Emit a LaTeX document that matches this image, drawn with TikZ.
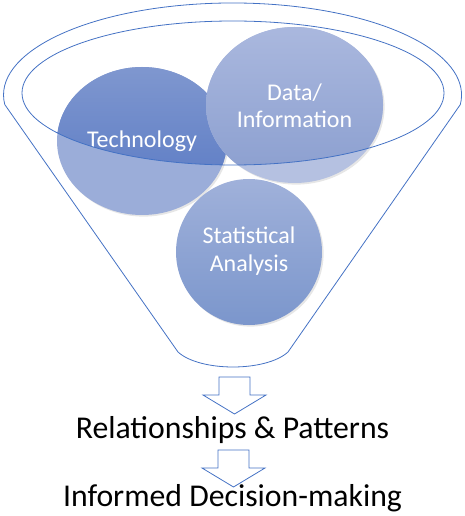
\documentclass[tikz,border=0pt]{standalone}
\usepackage{fontspec}
\setmainfont{Carlito}
\usetikzlibrary{shadows}
\definecolor{funnelblue}{HTML}{4472C4}
\definecolor{techtop}{HTML}{7F97CF}
\definecolor{techbot}{HTML}{5677C3}
\definecolor{techlight}{HTML}{9BADD9}
\definecolor{datatop}{HTML}{AAB8DE}
\definecolor{databot}{HTML}{8A9ECF}
\definecolor{datalight}{HTML}{B5C1E1}
\definecolor{stattop}{HTML}{A0B1DA}
\definecolor{statbot}{HTML}{7B96CC}
\newcommand{\blockarrow}[1]{\draw[arrowline] (#1) ++(-15.5,0) -- ++(0,18) -- ++(-16,0) -- ++(31.5,19) -- ++(31.5,-19) -- ++(-16,0) -- ++(0,-18) -- cycle;}
\begin{document}
\begin{tikzpicture}[x=0.75pt,y=-0.75pt]
\tikzstyle{funnel} = [draw=funnelblue, line width=0.6pt]
\tikzstyle{arrowline} = [draw=funnelblue, line width=0.6pt, line join=miter]
\tikzstyle{ball} = [drop shadow={opacity=0.2, shadow xshift=1.2pt, shadow yshift=-1.2pt}]
\tikzstyle{circletext} = [text=white, align=center, font=\fontsize{18}{20.5}\selectfont]
\tikzstyle{caption} = [anchor=base, font=\fontsize{23.8}{26}\selectfont]
\useasboundingbox (0,0) rectangle (464,516);
% balls in the funnel, back to front
\fill[ball, techlight] (142,141) ellipse [x radius=85, y radius=74];
\begin{scope}
\clip (233,93) ellipse [x radius=211, y radius=72];
\shade[top color=techtop, bottom color=techbot] (142,141) ellipse [x radius=85, y radius=74];
\end{scope}
\shade[ball, top color=stattop, bottom color=statbot] (249,252) circle [radius=73];
\fill[ball, datalight] (294.5,105) ellipse [x radius=88.5, y radius=78];
\begin{scope}
\clip (233,93) ellipse [x radius=211, y radius=72];
\shade[top color=datatop, bottom color=databot] (294.5,105) ellipse [x radius=88.5, y radius=78];
\end{scope}
\node[circletext] (tech) at (142,141) {Technology};
\node[circletext] (data) at (294.5,106) {Data/\\Information};
\node[circletext] (stat) at (249,251) {Statistical\\Analysis};
% funnel
\draw[funnel] (4.8,104.6) arc[start angle=174, end angle=366, x radius=229, y radius=92]
  -- (288,352) .. controls (266,372) and (200,372) .. (178,352) -- cycle;
\draw[funnel] (233,93) ellipse [x radius=211, y radius=72];
% results
\node[caption] (rel) at (232.5,438) {Relationships \& Patterns};
\node[caption] (dec) at (232.5,506) {Informed Decision-making};
\coordinate (arr1) at (234.5,377);
\coordinate (arr2) at (233.5,450);
\blockarrow{arr1}
\blockarrow{arr2}
\end{tikzpicture}
\end{document}
